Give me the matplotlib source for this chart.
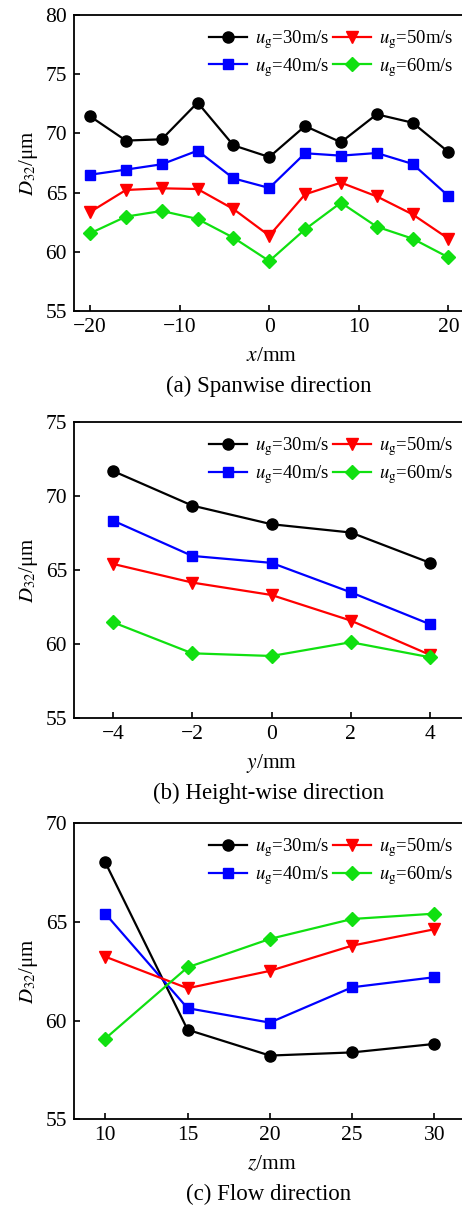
import matplotlib
matplotlib.use("Agg")
import matplotlib.pyplot as plt

plt.rcParams["font.family"] = ["Liberation Serif", "DejaVu Serif"]
plt.rcParams["mathtext.fontset"] = "stix"

# Panel (a): spanwise direction
x_a = [-20, -16, -12, -8, -4, 0, 4, 8, 12, 16, 20]
a_30 = [71.44, 69.39, 69.50, 72.60, 68.99, 68.00, 70.62, 69.25, 71.61, 70.90, 68.43]
a_40 = [66.51, 66.94, 67.39, 68.54, 66.20, 65.39, 68.32, 68.12, 68.34, 67.42, 64.71]
a_50 = [63.36, 65.22, 65.36, 65.30, 63.61, 61.36, 64.85, 65.84, 64.68, 63.16, 61.11]
a_60 = [61.56, 62.97, 63.45, 62.77, 61.19, 59.22, 61.90, 64.15, 62.12, 61.11, 59.53]

# Panel (b): height-wise direction
x_b = [-4, -2, 0, 2, 4]
b_30 = [71.71, 69.37, 68.11, 67.55, 65.50]
b_40 = [68.36, 65.97, 65.50, 63.51, 61.35]
b_50 = [65.43, 64.17, 63.33, 61.60, 59.28]
b_60 = [61.49, 59.39, 59.21, 60.14, 59.12]

# Panel (c): flow direction
x_c = [10, 15, 20, 25, 30]
c_30 = [68.02, 59.54, 58.23, 58.39, 58.82]
c_40 = [65.42, 60.63, 59.90, 61.69, 62.20]
c_50 = [63.24, 61.64, 62.52, 63.80, 64.63]
c_60 = [59.09, 62.70, 64.14, 65.15, 65.42]

speeds = ["30", "40", "50", "60"]
colors = ["black", "#0000ff", "#ff0000", "#10e010"]
markers = ["o", "s", "v", "D"]
msizes = [8, 6.5, 8.5, 7]

panels = [
    (x_a, [a_30, a_40, a_50, a_60], (-21.8, 22.3), (55, 80), [-20, -10, 0, 10, 20],
     [55, 60, 65, 70, 75, 80], "x", "(a) Spanwise direction", 0.7419),
    (x_b, [b_30, b_40, b_50, b_60], (-4.98, 4.98), (55, 75), [-4, -2, 0, 2, 4],
     [55, 60, 65, 70, 75], "y", "(b) Height-wise direction", 0.4039),
    (x_c, [c_30, c_40, c_50, c_60], (8.1, 32.1), (55, 70), [10, 15, 20, 25, 30],
     [55, 60, 65, 70], "z", "(c) Flow direction", 0.0711),
]

fig = plt.figure(figsize=(4.62, 12.05), dpi=100)
left, width, height = 74 / 462, 0.855, 0.2457
cx = (74 + 395 / 2) / 462

for xs, series, xlim, ylim, xt, yt, var, caption, bottom in panels:
    ax = fig.add_axes([left, bottom, width, height])
    for ys, sp, c, m, ms in zip(series, speeds, colors, markers, msizes):
        ax.plot(xs, ys, color=c, marker=m, markersize=ms, linewidth=1.6,
                label=r"$\mathit{u}_{\mathrm{g}}$=" + sp + "m/s")
    ax.set_xlim(*xlim)
    ax.set_ylim(*ylim)
    ax.set_xticks(xt)
    ax.set_yticks(yt)
    ax.set_xticklabels([str(v).replace("-", "\u2212") for v in xt])
    ax.tick_params(direction="in", labelsize=15.5, length=4, width=1.2, pad=5)
    for s in ax.spines.values():
        s.set_linewidth(1.3)
    ax.set_ylabel(r"$D_{32}$/μm", fontsize=15, labelpad=4)
    ax.legend(loc="upper right", ncol=2, frameon=False, fontsize=13.5,
              handlelength=2.0, handletextpad=0.45, columnspacing=0.2,
              labelspacing=0.25, borderaxespad=0.3, numpoints=1,
              bbox_to_anchor=(0.995, 1.0))
    fig.text(cx, bottom - 45 / 1205, "$" + var + "$/mm", ha="center", va="center", fontsize=15.5)
    fig.text(cx - 3 / 462, bottom - 75 / 1205, caption, ha="center", va="center", fontsize=16.5)

fig.savefig("out.png", dpi=100)
